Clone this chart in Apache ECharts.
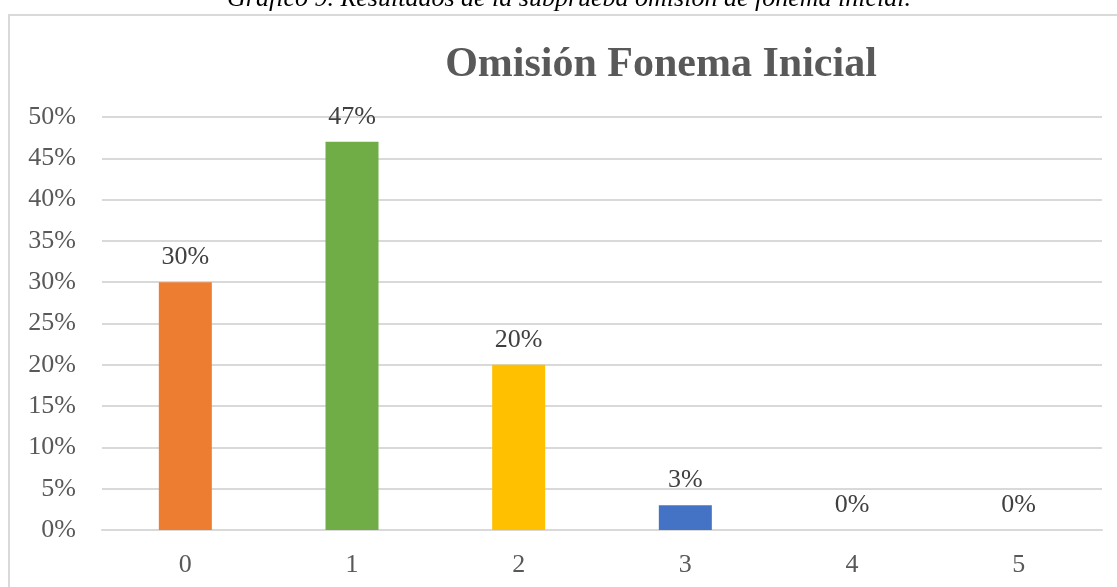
<!DOCTYPE html>
<html>
<head>
<meta charset="utf-8">
<script src="https://cdn.jsdelivr.net/npm/echarts@6/dist/echarts.min.js"></script>
<style>
  html, body { margin: 0; padding: 0; background: #fff; }
  #chart { width: 1117px; height: 587px; }
</style>
</head>
<body>
<div id="chart"></div>
<script>
// datos del gráfico
const categorias = ['0', '1', '2', '3', '4', '5'];
const porcentajes = [30, 47, 20, 3, 0, 0];
const colores = ['#ED7D31', '#70AD47', '#FFC000', '#4472C4', '#5B9BD5', '#A5A5A5'];
const ticksY = [0, 5, 10, 15, 20, 25, 30, 35, 40, 45, 50];

const fuente = '"Liberation Serif", "Times New Roman", serif';
const gris = '#595959';

const chart = echarts.init(document.getElementById('chart'));

const option = {
  animation: false,
  backgroundColor: '#fff',
  title: {
    text: 'Omisión Fonema Inicial',
    left: 656,
    top: 39,
    textAlign: 'center',
    textStyle: {
      fontFamily: fuente,
      fontWeight: 'bold',
      fontSize: 42,
      color: gris
    }
  },
  graphic: [
    {
      // marco del gráfico
      type: 'rect',
      shape: { x: 9, y: 15, width: 1200, height: 700 },
      style: { fill: 'none', stroke: '#d9d9d9', lineWidth: 2 },
      silent: true
    },
    {
      // leyenda del documento, cortada arriba
      type: 'text',
      x: 569,
      y: -1,
      style: {
        text: 'Gráfico 9. Resultados de la subprueba omisión de fonema inicial.',
        fontFamily: fuente,
        fontStyle: 'italic',
        fontSize: 26,
        fill: '#000',
        align: 'center',
        verticalAlign: 'middle'
      },
      silent: true
    }
  ],
  grid: {
    left: 102,
    right: 15,
    top: 117,
    bottom: 57,
    containLabel: false
  },
  xAxis: {
    type: 'category',
    data: categorias,
    axisLine: { show: true, lineStyle: { color: '#d9d9d9', width: 2 } },
    axisTick: { show: false },
    axisLabel: {
      margin: 22,
      fontFamily: fuente,
      fontSize: 26,
      color: gris
    }
  },
  yAxis: {
    type: 'value',
    min: 0,
    max: 50,
    interval: 5,
    axisLine: { show: false },
    axisTick: { show: false },
    splitLine: { lineStyle: { color: '#d9d9d9', width: 2 } },
    axisLabel: {
      margin: 26,
      fontFamily: fuente,
      fontSize: 26,
      color: gris,
      formatter: v => ticksY.includes(v) ? v + '%' : ''
    }
  },
  series: [{
    type: 'bar',
    barWidth: 53,
    data: porcentajes.map((v, i) => ({
      value: v,
      itemStyle: { color: colores[i] }
    })),
    label: {
      show: true,
      position: 'top',
      distance: 12,
      fontFamily: fuente,
      fontSize: 26,
      color: '#404040',
      formatter: p => p.value + '%'
    }
  }]
};

chart.setOption(option);
</script>
</body>
</html>
